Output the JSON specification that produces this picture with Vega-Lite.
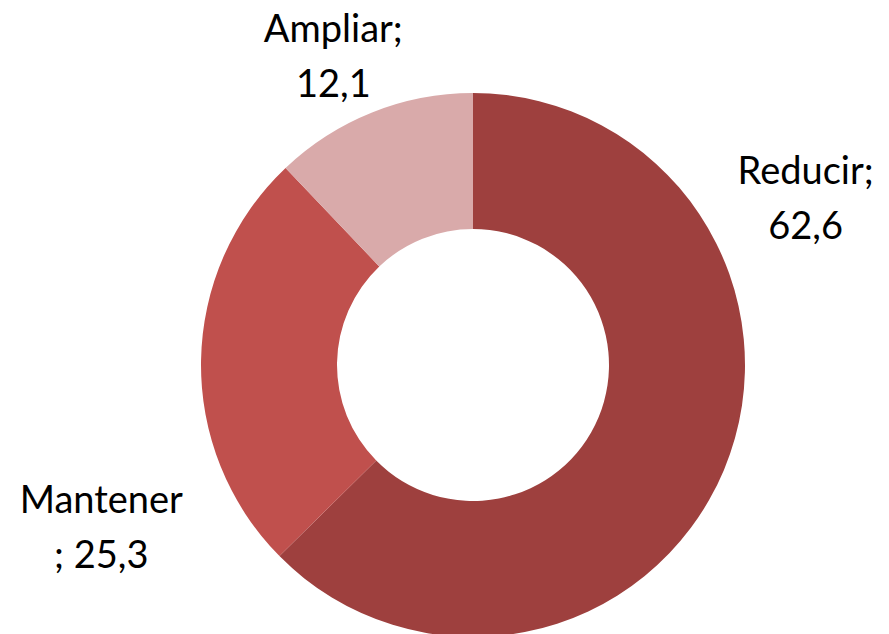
{
  "$schema": "https://vega.github.io/schema/vega-lite/v6.json",
  "autosize": {"type": "none"},
  "padding": {"left": 57, "top": 96, "right": 0, "bottom": 0},
  "width": 832,
  "height": 538,
  "background": "white",
  "config": {"view": {"stroke": null}},
  "data": {
    "values": [
      {"category": "Reducir", "value": 62.6, "label": "Reducir;\n62,6"},
      {"category": "Mantener", "value": 25.3, "label": "Mantener\n; 25,3"},
      {"category": "Ampliar", "value": 12.1, "label": "Ampliar;\n12,1"}
    ]
  },
  "encoding": {
    "theta": {"field": "value", "type": "quantitative", "stack": true},
    "order": {"field": "category", "sort": "descending"}
  },
  "layer": [
    {
      "mark": {"type": "arc", "radius": 272, "innerRadius": 136},
      "encoding": {
        "color": {
          "field": "category",
          "type": "nominal",
          "scale": {"domain": ["Reducir", "Mantener", "Ampliar"], "range": ["#9E403E", "#C0504D", "#D9AAAA"]},
          "legend": null
        }
      }
    },
    {
      "mark": {"type": "text", "radius": 384, "thetaOffset": -0.919, "font": "Lato", "fontSize": 38, "lineHeight": 55, "lineBreak": "\n", "align": "center", "baseline": "middle", "color": "#000000"},
      "encoding": {
        "text": {"condition": {"test": "datum.category === 'Reducir'", "field": "label"}, "value": ""}
      }
    },
    {
      "mark": {"type": "text", "radius": 396, "thetaOffset": -0.368, "font": "Lato", "fontSize": 38, "lineHeight": 55, "lineBreak": "\n", "align": "center", "baseline": "middle", "color": "#000000"},
      "encoding": {
        "text": {"condition": {"test": "datum.category === 'Mantener'", "field": "label"}, "value": ""}
      }
    },
    {
      "mark": {"type": "text", "radius": 362, "thetaOffset": -0.016, "font": "Lato", "fontSize": 38, "lineHeight": 55, "lineBreak": "\n", "align": "center", "baseline": "middle", "color": "#000000"},
      "encoding": {
        "text": {"condition": {"test": "datum.category === 'Ampliar'", "field": "label"}, "value": ""}
      }
    }
  ]
}
